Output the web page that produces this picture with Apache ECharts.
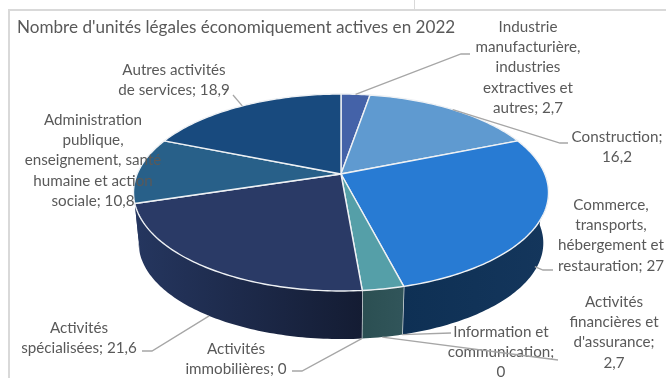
<!DOCTYPE html>
<html lang="fr">
<head>
<meta charset="utf-8">
<title>Unités légales actives en 2022</title>
<script src="https://cdn.jsdelivr.net/npm/echarts@6/dist/echarts.min.js"></script>
<style>
  html, body { margin: 0; padding: 0; background: #fff; }
  #chart { width: 666px; height: 378px; }
</style>
</head>
<body>
<div id="chart"></div>
<script>
// Sector shares, clockwise from twelve o'clock.
const categories = [
  "Industrie\nmanufacturière,\nindustries\nextractives et\nautres",
  "Construction",
  "Commerce,\ntransports,\nhébergement et\nrestauration",
  "Information et\ncommunication",
  "Activités\nfinancières et\nd'assurance",
  "Activités\nimmobilières",
  "Activités\nspécialisées",
  "Administration\npublique,\nenseignement, santé\nhumaine et action\nsociale",
  "Autres activités\nde services"
];
const values = [2.7, 16.2, 27, 0, 2.7, 0, 21.6, 10.8, 18.9];
const valueOnOwnLine = [false, true, false, true, true, false, false, false, false];
const chartTitle = "Nombre d'unités légales économiquement actives en 2022";

const topColors = ["#4462a8", "#5f9ad0", "#287bd3", "#2f6f80", "#559fa8", "#2a3c66", "#2a3a66", "#286089", "#184a7e"];
const wallColors = [
  ["#2a3c68", "#2a3c68"], ["#3b607f", "#3b607f"], ["#0e3054", "#14365c"], ["#2c5052", "#2c5052"],
  ["#2b4f52", "#31555a"], ["#1c2745", "#1c2745"], ["#25365f", "#141c33"], ["#25365f", "#25365f"], ["#0e2d4e", "#0e2d4e"]
];

// Projection of the disc: the far side is squeezed, the near side enlarged.
const disc = { cx: 341, cy: 174, a: 203.8, b: 95, k: 0.188 };
const base = { cy: 225, scale: 0.975 };

// Label placement: centre x, centre y of the first line, and where the leader meets the text.
const placement = [
  { x: 528, y: 27, on: "top", via: [[461, 54], [470, 54]] },
  { x: 617, y: 137, on: "top", via: [[560, 143], [568, 143]] },
  { x: 611, y: 205, on: "base", via: [[543, 270], [553, 270]], lift: 4 },
  { x: 501, y: 332, on: "base", via: [[451, 333]] },
  { x: 614, y: 302, on: "base", via: [[558, 360]] },
  { x: 236, y: 349, on: "base", via: [[302, 371], [292, 371]] },
  { x: 79, y: 328, on: "base", via: [[152, 351], [142, 351]] },
  { x: 93, y: 120 },
  { x: 174, y: 70, on: "top", via: [[233, 95]] }
];

const total = values.reduce((s, v) => s + v, 0);
const startAngle = [];
values.reduce((sum, v, i) => { startAngle[i] = sum / total * 360; return sum + v; }, 0);
const endAngle = i => startAngle[i] + values[i] / total * 360;

function project(deg, onBase) {
  const t = deg * Math.PI / 180, u = Math.sin(t), v = Math.cos(t), w = 1 + disc.k * v;
  const s = onBase ? base.scale : 1, y0 = onBase ? base.cy : disc.cy;
  return [disc.cx + s * disc.a * u / w, y0 - s * disc.b * v / w];
}
function arc(from, to, onBase) {
  const pts = [], n = Math.max(2, Math.ceil(Math.abs(to - from)));
  for (let i = 0; i <= n; i++) pts.push(project(from + (to - from) * i / n, onBase));
  return pts;
}

const labelFont = "Lato, 'Open Sans', sans-serif";
const textGray = "#595959";
const lineHeight = 20.25;

function wallItem(params) {
  const i = params.dataIndex;
  const from = Math.max(startAngle[i], 90), to = Math.min(endAngle(i), 270);
  if (values[i] === 0 || to <= from) return { type: "group", children: [] };
  const points = arc(from, to, false).concat(arc(to, from, true));
  const kids = [{
    type: "polygon", shape: { points },
    style: { fill: { type: "linear", x: 0, y: 0, x2: 1, y2: 0,
      colorStops: [{ offset: 0, color: wallColors[i][0] }, { offset: 1, color: wallColors[i][1] }] } }
  }];
  // Seams only where two walls meet on the near side of the disc.
  if (to < 240) {
    kids.push({ type: "polyline", shape: { points: [project(to, false), project(to, true)] },
      style: { fill: null, stroke: "#dfe3e6", lineWidth: 1.4 } });
  }
  return { type: "group", children: kids };
}

function topItem(params) {
  const i = params.dataIndex;
  if (values[i] === 0) return { type: "group", children: [] };
  const points = [[disc.cx, disc.cy]].concat(arc(startAngle[i], endAngle(i), false));
  return { type: "polygon", shape: { points },
    style: { fill: topColors[i], stroke: "#eef1f4", lineWidth: 1.4, lineJoin: "round" } };
}

function labelItem(params) {
  const i = params.dataIndex, p = placement[i], kids = [];
  const shown = String(values[i]).replace(".", ",");
  const text = categories[i] + (valueOnOwnLine[i] ? ";\n" : "; ") + shown;
  if (p.via) {
    const a = project((startAngle[i] + endAngle(i)) / 2, p.on === "base");
    if (p.lift) a[1] -= p.lift;
    kids.push({ type: "polyline", shape: { points: [a].concat(p.via) },
      style: { fill: null, stroke: "#a6a6a6", lineWidth: 1.3 } });
  }
  kids.push({ type: "text", style: {
    x: p.x, y: p.y - lineHeight / 2, text, align: "center", verticalAlign: "top",
    font: "15.2px " + labelFont, lineHeight, fill: textGray } });
  return { type: "group", children: kids };
}

const layer = (renderItem, z) => ({
  type: "custom", coordinateSystem: "none", data: values, renderItem, z, silent: true, animation: false, clip: false
});

const chart = echarts.init(document.getElementById("chart"), null, { renderer: "canvas", width: 666, height: 378 });
chart.setOption({
  backgroundColor: "#ffffff",
  animation: false,
  title: {
    text: chartTitle, left: 12, top: 14,
    textStyle: { fontFamily: labelFont, fontSize: 17.1, fontWeight: "normal", color: textGray }
  },
  graphic: [
    { type: "rect", shape: { x: 8, y: 9, width: 658, height: 2 }, style: { fill: "#d9d9d9" }, silent: true },
    { type: "rect", shape: { x: 8, y: 9, width: 2, height: 369 }, style: { fill: "#d9d9d9" }, silent: true },
    { type: "rect", shape: { x: 414, y: 0, width: 1, height: 9 }, style: { fill: "#d9d9d9" }, silent: true }
  ],
  series: [layer(wallItem, 1), layer(topItem, 2), layer(labelItem, 3)]
});
</script>
</body>
</html>
